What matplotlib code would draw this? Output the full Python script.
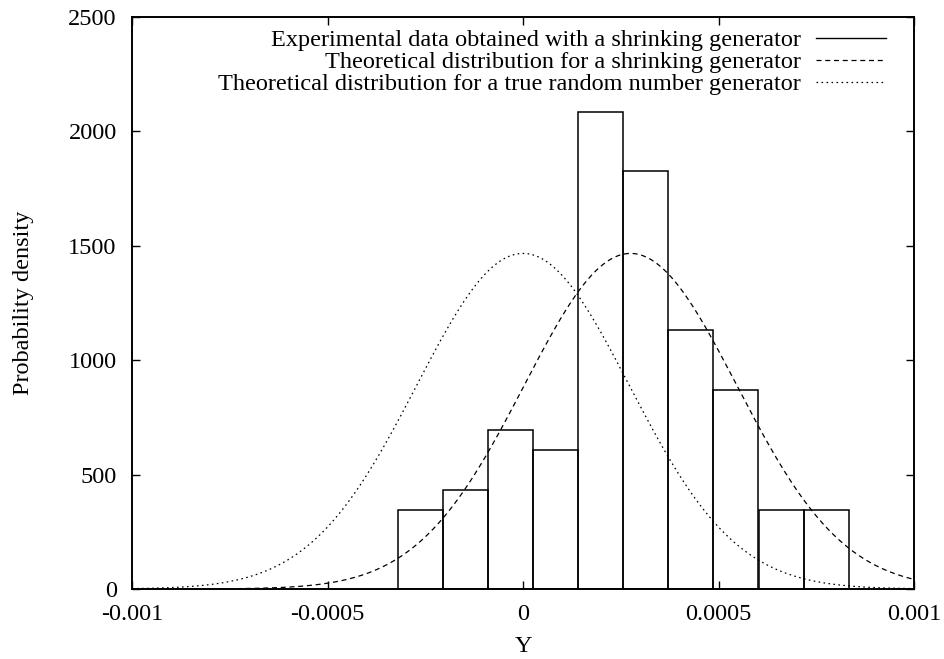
import numpy as np
import matplotlib
matplotlib.use("Agg")
import matplotlib.pyplot as plt
from matplotlib.lines import Line2D

# histogram of experimental data (left bin edges and density)
bin_left = [-0.000319, -0.000204, -0.000089, 0.000026, 0.000141,
            0.000257, 0.000372, 0.000487, 0.000603, 0.000718]
bin_width = 0.000115
density = [347, 434, 695, 608, 2085, 1825, 1130, 869, 347, 347]

# theoretical normal distributions (mean, sigma)
shrink_mu, shrink_sigma = 0.000275, 0.000272
true_mu, true_sigma = 0.0, 0.000272

labels = ['Experimental data obtained with a shrinking generator',
          'Theoretical distribution for a shrinking generator',
          'Theoretical distribution for a true random number generator']

xticks = [-0.001, -0.0005, 0, 0.0005, 0.001]
xticklabels = ['-0.001', '-0.0005', '0', '0.0005', '0.001']
yticks = [0, 500, 1000, 1500, 2000, 2500]

plt.rcParams['font.family'] = ['Liberation Serif', 'DejaVu Serif']
plt.rcParams['font.size'] = 17.5


def normal_pdf(x, mu, sigma):
    return np.exp(-0.5 * ((x - mu) / sigma) ** 2) / (sigma * np.sqrt(2 * np.pi))


fig = plt.figure(figsize=(9.44, 6.59), dpi=100)
ax = fig.add_axes([132 / 944, 70 / 659, 782 / 944, 572 / 659])

ax.bar(bin_left, density, width=bin_width, align='edge', fill=False,
       edgecolor='black', linewidth=1.1)

x = np.linspace(-0.001, 0.001, 600)
ax.plot(x, normal_pdf(x, shrink_mu, shrink_sigma), color='black',
        linewidth=0.9, dashes=(4, 3))
ax.plot(x, normal_pdf(x, true_mu, true_sigma), color='black',
        linewidth=0.9, dashes=(1.3, 2.7))

ax.set_xlim(-0.001, 0.001)
ax.set_ylim(0, 2500)
ax.set_xticks(xticks)
ax.set_xticklabels(xticklabels)
ax.set_yticks(yticks)
ax.tick_params(direction='in', length=6, width=1, top=True, right=True,
               pad=11)
ax.tick_params(axis='y', pad=11)
for s in ax.spines.values():
    s.set_linewidth(1.4)

ax.set_xlabel('Y', labelpad=8)
ax.set_ylabel('Probability density', labelpad=25)

handles = [Line2D([], [], color='black', linewidth=1),
           Line2D([], [], color='black', linewidth=0.9, dashes=(4, 3)),
           Line2D([], [], color='black', linewidth=0.9, dashes=(1.3, 2.7))]
ax.legend(handles, labels, loc='upper right', frameon=False, markerfirst=False,
          handlelength=2.9, handletextpad=0.6, labelspacing=0.0,
          borderaxespad=0.1, bbox_to_anchor=(0.98, 1.0))

fig.savefig('out.png', dpi=100)
